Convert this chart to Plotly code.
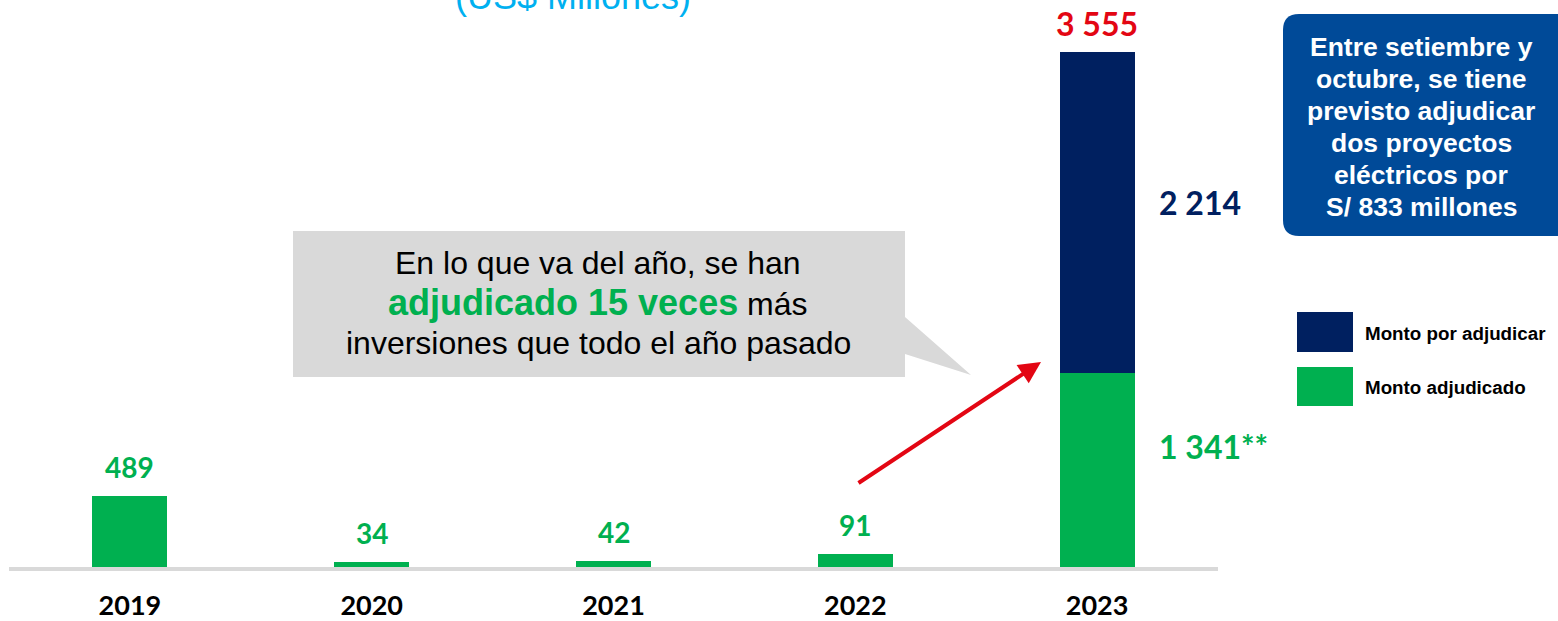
import plotly.graph_objects as go

# ---------------- data ----------------
years = ["2019", "2020", "2021", "2022", "2023"]
adjudicado = [489, 34, 42, 91, 1341]
por_adjudicar = [0, 0, 0, 0, 2214]
label_adjudicado = ["489", "34", "42", "91", "1 341**"]
label_por_adjudicar = "2 214"
label_total = "3 555"
total_2023 = 3555

title_text = "(US$ Millones)"
callout_lines = ["En lo que va del año, se han",
                 "<b><span style='color:#00B050;font-size:36px'>adjudicado 15 veces</span></b> más",
                 "inversiones que todo el año pasado"]
box_lines = ["Entre setiembre y", "octubre, se tiene", "previsto adjudicar",
             "dos proyectos", "eléctricos por", "S/ 833 millones"]
legend_names = ["Monto por adjudicar", "Monto adjudicado"]

GREEN = "#00B050"
NAVY = "#002060"
RED = "#E30613"
BLUE_BOX = "#004A98"
GRAY = "#D9D9D9"

W, H = 1558, 621
def px(x):
    return x / W
def py(y):
    return 1 - y / H

fig = go.Figure()
fig.add_trace(go.Bar(x=years, y=adjudicado, name=legend_names[1], marker_color=GREEN,
                     marker_line_width=0, width=0.31))
fig.add_trace(go.Bar(x=years, y=por_adjudicar, name=legend_names[0], marker_color=NAVY,
                     marker_line_width=0, width=0.31))

ymax = total_2023 * 557 / 515

annotations = []
num_font = "Lato"
# value labels for 2019-2022 (x given as category index)
for i in range(4):
    annotations.append(dict(x=i, y=adjudicado[i], xref="x", yref="y",
                            text=f"<b>{label_adjudicado[i]}</b>", showarrow=False,
                            yanchor="middle", yshift=29,
                            font=dict(family=num_font, size=28, color=GREEN)))
# 2023 labels
i23 = len(years) - 1
annotations.append(dict(x=i23, y=total_2023, xref="x", yref="y",
                        text=f"<b>{label_total}</b>", showarrow=False,
                        yanchor="middle", yshift=28,
                        font=dict(family=num_font, size=32, color=RED)))
annotations.append(dict(x=i23, y=adjudicado[i23] + por_adjudicar[i23] / 2, xref="x", yref="y",
                        text=f"<b>{label_por_adjudicar}</b>", showarrow=False,
                        xanchor="left", xshift=60, yanchor="middle", yshift=10,
                        font=dict(family=num_font, size=32, color=NAVY)))
annotations.append(dict(x=i23, y=adjudicado[i23] / 2, xref="x", yref="y",
                        text=f"<b>{label_adjudicado[i23]}</b>", showarrow=False,
                        xanchor="left", xshift=60, yanchor="middle", yshift=23,
                        font=dict(family=num_font, size=32, color=GREEN)))

# title (cut at top)
annotations.append(dict(x=px(573), y=py(19), xref="paper", yref="paper", text=title_text,
                        showarrow=False, xanchor="center", yanchor="bottom",
                        font=dict(family="Liberation Sans, Arial", size=36, color="#00B0F0")))

# callout text, one annotation per line
for k, line in enumerate(callout_lines):
    annotations.append(dict(x=px(598), y=py(263 + 40 * k), xref="paper", yref="paper",
                            text=line, showarrow=False,
                            xanchor="center", yanchor="middle", align="center",
                            font=dict(family="Liberation Sans, Arial", size=32, color="#000000")))

# right blue box text, one annotation per line
for k, line in enumerate(box_lines):
    annotations.append(dict(x=px(1421), y=py(47 + 32 * k), xref="paper", yref="paper",
                            text=f"<b>{line}</b>", showarrow=False,
                            xanchor="center", yanchor="middle", align="center",
                            font=dict(family="Liberation Sans, Arial", size=26.5, color="#FFFFFF")))

# legend texts
annotations.append(dict(x=px(1363), y=py(333), xref="paper", yref="paper",
                        text=f"<b>{legend_names[0]}</b>", showarrow=False,
                        xanchor="left", yanchor="middle",
                        font=dict(family="Liberation Sans, Arial", size=18.8, color="#000000")))
annotations.append(dict(x=px(1363), y=py(387), xref="paper", yref="paper",
                        text=f"<b>{legend_names[1]}</b>", showarrow=False,
                        xanchor="left", yanchor="middle",
                        font=dict(family="Liberation Sans, Arial", size=18.8, color="#000000")))

# red arrow
annotations.append(dict(x=px(1041), y=py(362), xref="paper", yref="paper",
                        ax=857 - 1041, ay=484 - 362, axref="pixel", ayref="pixel",
                        text="", showarrow=True, arrowhead=2, arrowsize=1.1, arrowwidth=4,
                        arrowcolor=RED))

def path(points):
    return "M " + " L ".join(f"{px(x)},{py(y)}" for x, y in points) + " Z"

shapes = []
# callout bubble
shapes.append(dict(type="path", xref="paper", yref="paper",
                   path=path([(293, 231), (905, 231), (905, 317), (971, 375), (905, 354),
                              (905, 377), (293, 377)]),
                   fillcolor=GRAY, line=dict(width=0), layer="below"))
# rounded blue box
r = 16
x0, x1, y0, y1 = 1283, 1575, 14, 236
rp = (f"M {px(x0 + r)},{py(y0)} L {px(x1 - r)},{py(y0)} Q {px(x1)},{py(y0)} {px(x1)},{py(y0 + r)} "
      f"L {px(x1)},{py(y1 - r)} Q {px(x1)},{py(y1)} {px(x1 - r)},{py(y1)} "
      f"L {px(x0 + r)},{py(y1)} Q {px(x0)},{py(y1)} {px(x0)},{py(y1 - r)} "
      f"L {px(x0)},{py(y0 + r)} Q {px(x0)},{py(y0)} {px(x0 + r)},{py(y0)} Z")
shapes.append(dict(type="path", xref="paper", yref="paper", path=rp,
                   fillcolor=BLUE_BOX, line=dict(width=0), layer="below"))
# legend swatches
shapes.append(dict(type="rect", xref="paper", yref="paper", x0=px(1297), x1=px(1353),
                   y0=py(352), y1=py(312), fillcolor=NAVY, line=dict(width=0)))
shapes.append(dict(type="rect", xref="paper", yref="paper", x0=px(1297), x1=px(1353),
                   y0=py(406), y1=py(367), fillcolor=GREEN, line=dict(width=0)))

fig.update_layout(
    width=W, height=H,
    margin=dict(l=0, r=0, t=0, b=0, autoexpand=False),
    paper_bgcolor="white", plot_bgcolor="white",
    barmode="stack", bargap=0, showlegend=False,
    xaxis=dict(domain=[px(9), px(1218)], type="category", range=[-0.5, 4.5],
               showgrid=False, zeroline=False, showline=True, linecolor=GRAY, linewidth=4,
               ticks="", ticklabelstandoff=12, automargin=False,
               tickfont=dict(family=num_font, size=27, color="#000000"),
               tickvals=years, ticktext=[f"<b>{y}</b>" for y in years]),
    yaxis=dict(domain=[py(567), py(10)], range=[0, ymax], visible=False, showgrid=False,
               zeroline=False, automargin=False),
    annotations=annotations, shapes=shapes,
)

fig.write_html("out.html", config={"displayModeBar": False},
               post_script="document.body.style.margin='0';")
